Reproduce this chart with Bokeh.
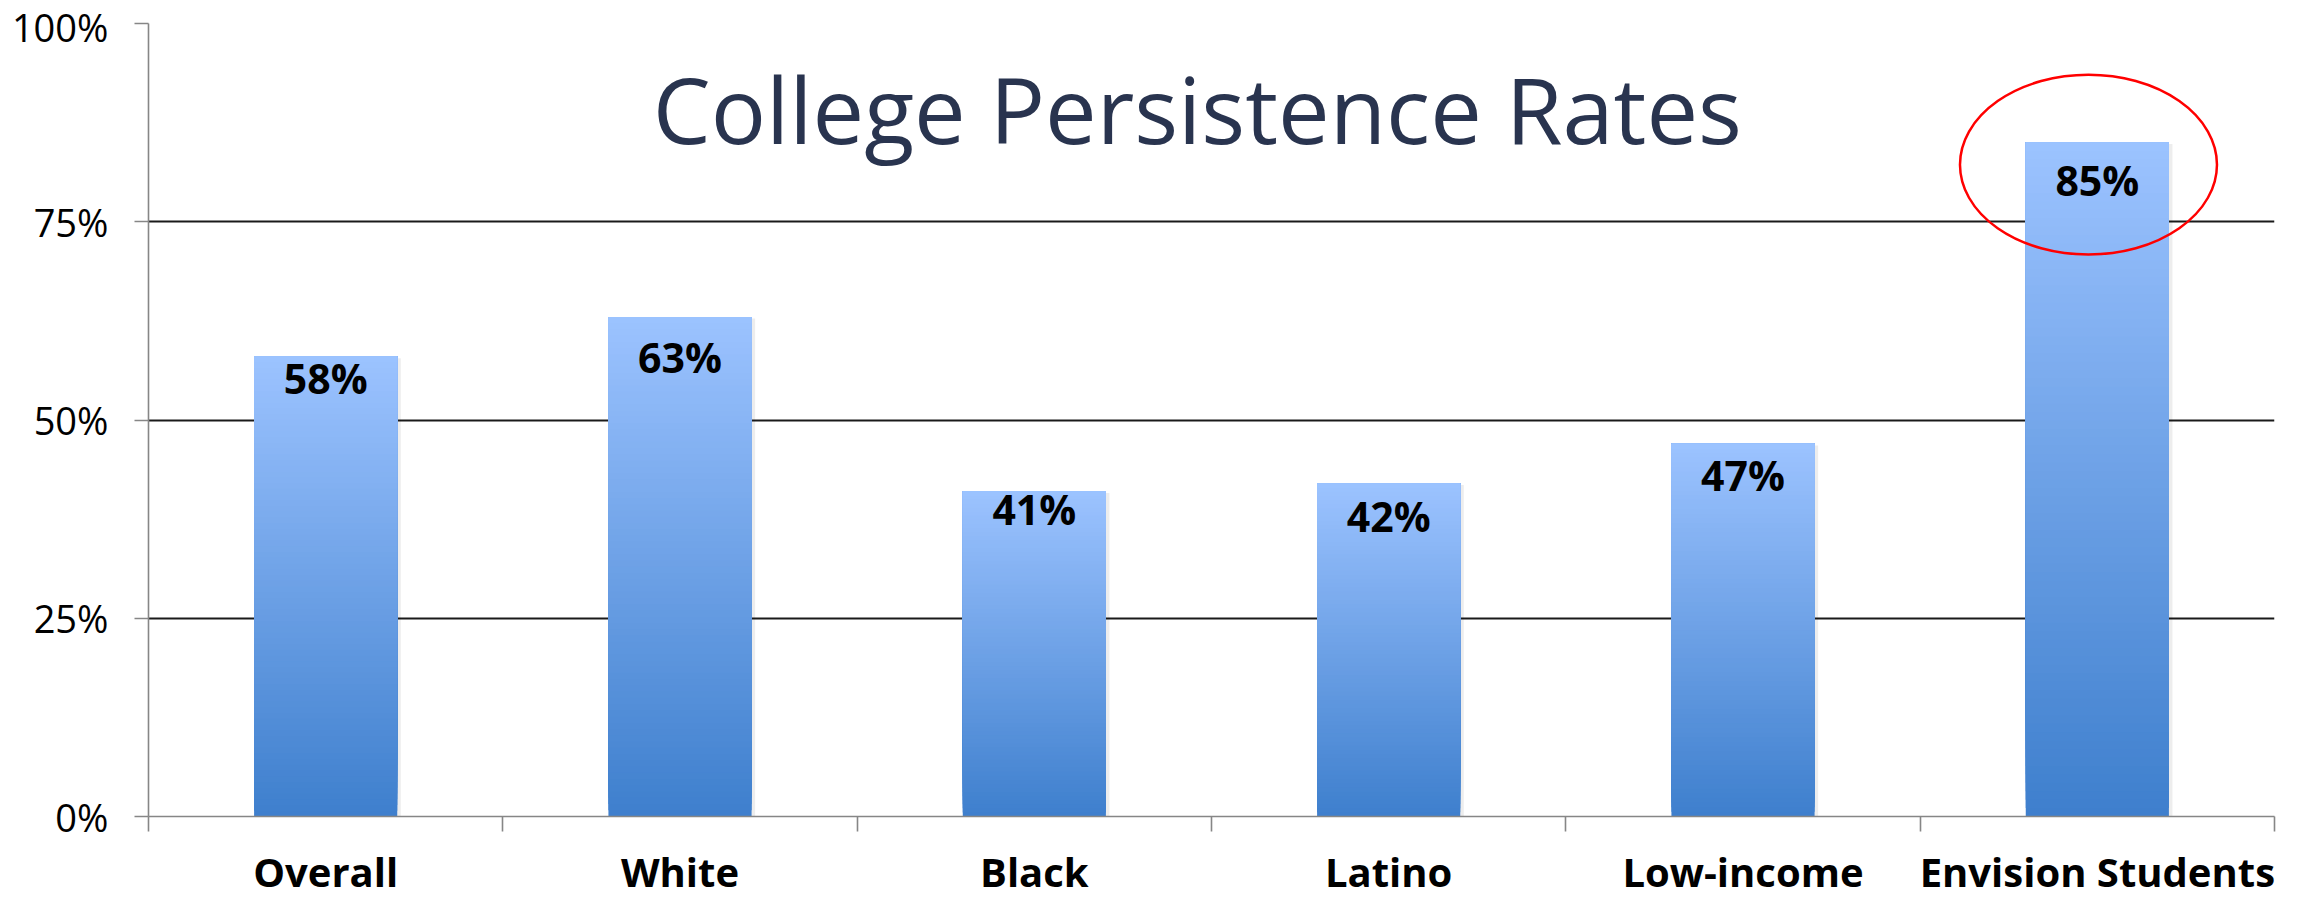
from bokeh.plotting import figure
from bokeh.models import Range1d, FixedTicker, PrintfTickFormatter, Label, ColumnDataSource
from bokeh.core.properties import value
from bokeh.embed import file_html
from bokeh.resources import INLINE

# ---- data ----
categories = ["Overall", "White", "Black", "Latino", "Low-income", "Envision Students"]
rates = [58, 63, 41, 42, 47, 85]
value_labels = ["58%", "63%", "41%", "42%", "47%", "85%"]
y_ticks = [0, 25, 50, 75, 100]
title_text = "College Persistence Rates"
highlight = "Envision Students"

# ---- styling ----
FONT = "Open Sans"
BAR_W = 0.404
TOP_RGB = (156, 195, 255)
BOT_RGB = (62, 127, 205)
N_SLICES = 80
label_drop = [21, 40, 18, 33, 31, 38]  # px below bar top (label centre)

idx = list(range(len(categories)))

p = figure(width=2308, height=901, output_backend="svg", toolbar_location=None,
           x_range=Range1d(-0.5, len(categories) - 0.5), y_range=Range1d(0, 100),
           min_border_left=148, min_border_right=34, min_border_top=23, min_border_bottom=84)
p.outline_line_color = None
p.background_fill_color = "white"
p.border_fill_color = "white"

# grid
p.xgrid.visible = False
p.ygrid.ticker = FixedTicker(ticks=[t for t in y_ticks if t > 0])
p.ygrid.grid_line_color = "#1a1a1a"
p.ygrid.grid_line_width = 1.8

# y axis
ya = p.yaxis[0]
ya.ticker = FixedTicker(ticks=y_ticks, minor_ticks=[])
ya.formatter = PrintfTickFormatter(format="%d%%")
ya.axis_line_color = "#868686"
ya.axis_line_width = 1.6
ya.major_tick_line_color = "#868686"
ya.major_tick_line_width = 1.6
ya.major_tick_out = 14
ya.major_tick_in = 0
ya.minor_tick_line_color = None
ya.major_label_text_font = FONT
ya.major_label_text_font_size = "38px"
ya.major_label_text_color = "black"
ya.major_label_standoff = 26

# x axis: boundary ticks as minor ticks, category names at the centres
xa = p.xaxis[0]
xa.ticker = FixedTicker(ticks=idx, minor_ticks=[i - 0.5 for i in range(len(categories) + 1)])
xa.major_label_overrides = {i: c for i, c in zip(idx, categories)}
xa.axis_line_color = "#868686"
xa.axis_line_width = 1.6
xa.major_tick_line_color = None
xa.major_tick_out = 0
xa.major_tick_in = 0
xa.minor_tick_line_color = "#868686"
xa.minor_tick_line_width = 1.6
xa.minor_tick_out = 15
xa.minor_tick_in = 0
xa.major_label_text_font = FONT
xa.major_label_text_font_style = "bold"
xa.major_label_text_font_size = "40px"
xa.major_label_text_color = "black"
xa.major_label_text_line_height = 0.8
xa.major_label_standoff = 12

# bar shadows
p.quad(left=[i - BAR_W / 2 + 0.004 for i in idx], right=[i + BAR_W / 2 + 0.010 for i in idx],
       top=[r - 0.2 for r in rates], bottom=[0] * len(idx),
       fill_color="black", fill_alpha=0.07, line_color=None)

# gradient bars (each slice runs up to the bar top; later, lighter slices cover the upper part)
L, R, T, B, C = [], [], [], [], []
for i, v in zip(idx, rates):
    for k in range(N_SLICES):
        t = (k + 0.5) / N_SLICES
        rgb = tuple(int(round(BOT_RGB[j] + (TOP_RGB[j] - BOT_RGB[j]) * t)) for j in range(3))
        L.append(i - BAR_W / 2)
        R.append(i + BAR_W / 2)
        B.append(v * k / N_SLICES)
        T.append(v)
        C.append("#%02x%02x%02x" % rgb)
p.quad(left=L, right=R, top=T, bottom=B, fill_color=C, line_color=None)

# value labels
src = ColumnDataSource(dict(x=idx, y=rates, text=value_labels, drop=label_drop))
p.text(x="x", y="y", text="text", y_offset="drop", source=src,
       text_font=value(FONT), text_font_style="bold", text_font_size="41px",
       text_color="black", text_align="center", text_baseline="middle")

# highlight ellipse
hi = categories.index(highlight)
p.ellipse(x=[hi - 0.025], y=[rates[hi] - 2.8], width=257, height=180,
          width_units="screen", height_units="screen",
          fill_color=None, line_color="#ff0000", line_width=2.5)

# title
p.add_layout(Label(x=(len(categories) - 1) / 2 - 0.04, y=89.3, text=title_text,
                   text_font=FONT, text_font_size="92px", text_color="#29344f",
                   text_align="center", text_baseline="middle"))

open("out.html", "w").write(file_html(p, INLINE))
